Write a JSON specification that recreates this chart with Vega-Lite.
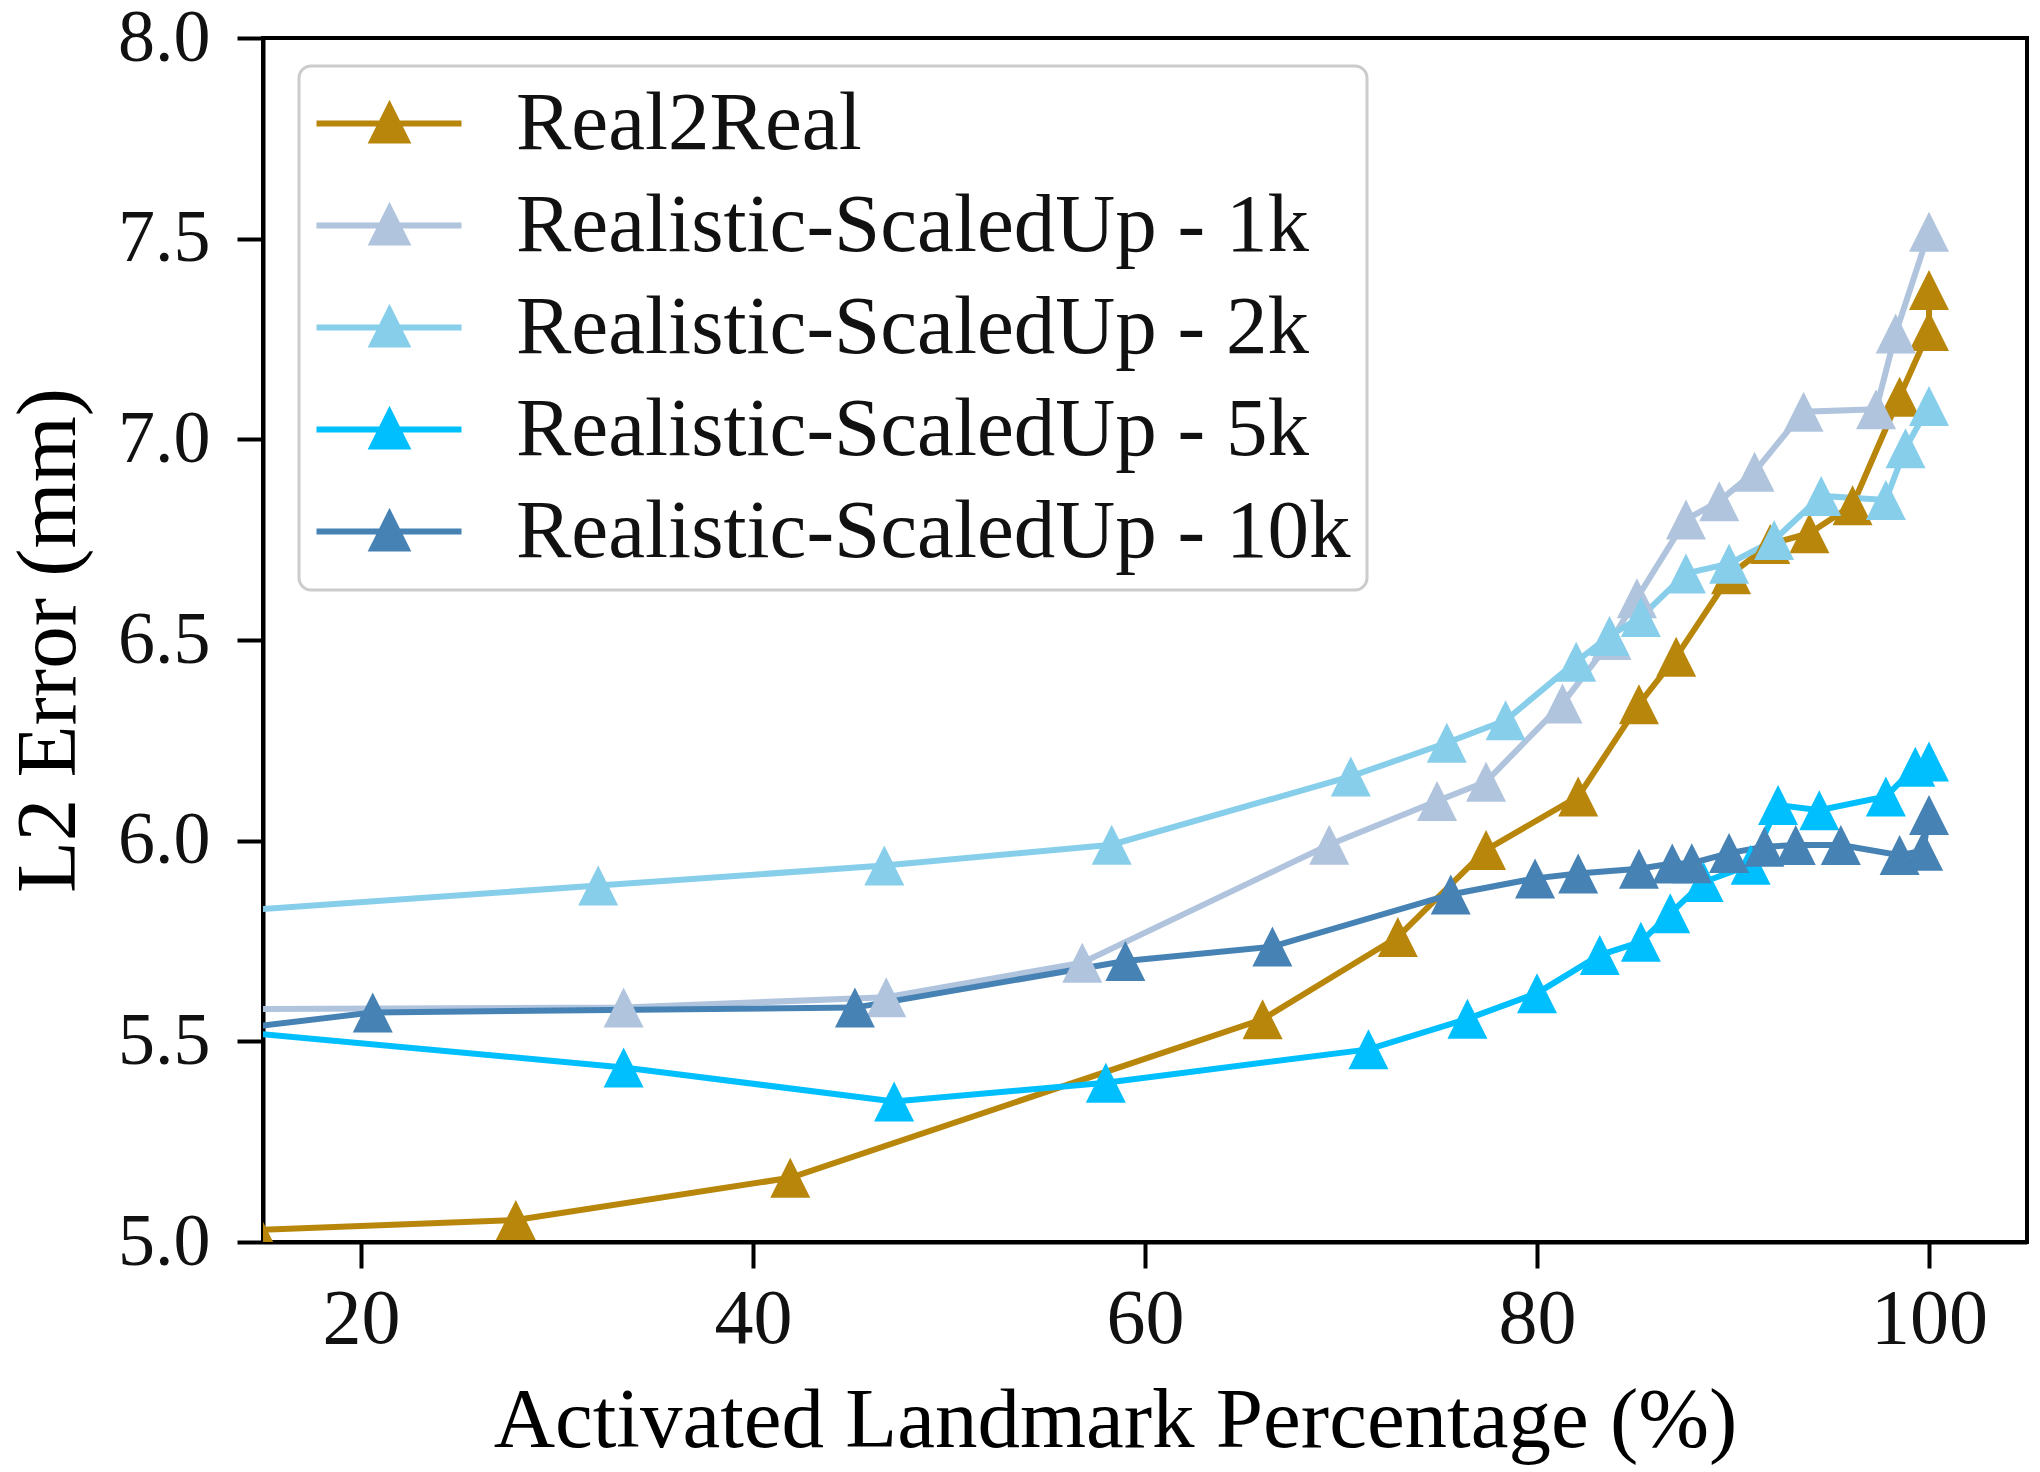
{
  "$schema": "https://vega.github.io/schema/vega-lite/v6.json",
  "width": 1764,
  "height": 1204,
  "autosize": {"type": "none"},
  "padding": {"left": 263, "top": 38, "right": 13, "bottom": 230},
  "background": "white",
  "config": {
    "view": {"stroke": "black", "strokeWidth": 4},
    "font": "Liberation Serif",
    "axis": {
      "grid": false,
      "domainColor": "black",
      "domainWidth": 4,
      "tickColor": "black",
      "tickWidth": 4,
      "tickSize": 26,
      "labelFont": "Liberation Serif",
      "labelFontSize": 78,
      "labelColor": "#111111",
      "titleFont": "Liberation Serif",
      "titleFontSize": 85,
      "titleFontWeight": "normal",
      "titleColor": "black"
    },
    "legend": {
      "orient": "none",
      "legendX": 36,
      "legendY": 28,
      "symbolType": "M-2.0,0L5.25,0M1.65,-0.85L0.8,0.85L2.5,0.85Z",
      "symbolSize": 1600,
      "symbolStrokeWidth": 6,
      "labelFont": "Liberation Serif",
      "labelFontSize": 83,
      "labelColor": "#111111",
      "labelOffset": 118,
      "labelLimit": 2000,
      "padding": 16,
      "rowPadding": 18,
      "fillColor": "rgba(255,255,255,0.85)",
      "strokeColor": "#cccccc",
      "strokeWidth": 3,
      "cornerRadius": 12
    }
  },
  "data": {
    "values": [
      {"s": "Real2Real", "i": 1, "x": 14.7, "y": 5.03},
      {"s": "Real2Real", "i": 2, "x": 27.9, "y": 5.055},
      {"s": "Real2Real", "i": 3, "x": 41.9, "y": 5.16},
      {"s": "Real2Real", "i": 4, "x": 66.0, "y": 5.555},
      {"s": "Real2Real", "i": 5, "x": 72.9, "y": 5.76},
      {"s": "Real2Real", "i": 6, "x": 77.4, "y": 5.977},
      {"s": "Real2Real", "i": 7, "x": 82.1, "y": 6.11},
      {"s": "Real2Real", "i": 8, "x": 85.2, "y": 6.34},
      {"s": "Real2Real", "i": 9, "x": 87.1, "y": 6.458},
      {"s": "Real2Real", "i": 10, "x": 89.9, "y": 6.664},
      {"s": "Real2Real", "i": 11, "x": 91.9, "y": 6.739},
      {"s": "Real2Real", "i": 12, "x": 93.9, "y": 6.766},
      {"s": "Real2Real", "i": 13, "x": 96.1, "y": 6.836},
      {"s": "Real2Real", "i": 14, "x": 98.5, "y": 7.106},
      {"s": "Real2Real", "i": 15, "x": 100.0, "y": 7.27},
      {"s": "Real2Real", "i": 16, "x": 100.0, "y": 7.372},

      {"s": "Realistic-ScaledUp - 1k", "i": 1, "x": 10.0, "y": 5.58},
      {"s": "Realistic-ScaledUp - 1k", "i": 2, "x": 33.4, "y": 5.584},
      {"s": "Realistic-ScaledUp - 1k", "i": 3, "x": 46.8, "y": 5.61},
      {"s": "Realistic-ScaledUp - 1k", "i": 4, "x": 56.8, "y": 5.696},
      {"s": "Realistic-ScaledUp - 1k", "i": 5, "x": 69.4, "y": 5.99},
      {"s": "Realistic-ScaledUp - 1k", "i": 6, "x": 74.9, "y": 6.099},
      {"s": "Realistic-ScaledUp - 1k", "i": 7, "x": 77.4, "y": 6.147},
      {"s": "Realistic-ScaledUp - 1k", "i": 8, "x": 81.3, "y": 6.342},
      {"s": "Realistic-ScaledUp - 1k", "i": 9, "x": 83.8, "y": 6.5},
      {"s": "Realistic-ScaledUp - 1k", "i": 10, "x": 85.1, "y": 6.604},
      {"s": "Realistic-ScaledUp - 1k", "i": 11, "x": 87.6, "y": 6.8},
      {"s": "Realistic-ScaledUp - 1k", "i": 12, "x": 89.3, "y": 6.846},
      {"s": "Realistic-ScaledUp - 1k", "i": 13, "x": 91.1, "y": 6.919},
      {"s": "Realistic-ScaledUp - 1k", "i": 14, "x": 93.6, "y": 7.069},
      {"s": "Realistic-ScaledUp - 1k", "i": 15, "x": 97.3, "y": 7.075},
      {"s": "Realistic-ScaledUp - 1k", "i": 16, "x": 98.3, "y": 7.264},
      {"s": "Realistic-ScaledUp - 1k", "i": 17, "x": 100.0, "y": 7.517},

      {"s": "Realistic-ScaledUp - 2k", "i": 1, "x": 10.0, "y": 5.813},
      {"s": "Realistic-ScaledUp - 2k", "i": 2, "x": 32.1, "y": 5.888},
      {"s": "Realistic-ScaledUp - 2k", "i": 3, "x": 46.7, "y": 5.938},
      {"s": "Realistic-ScaledUp - 2k", "i": 4, "x": 58.3, "y": 5.99},
      {"s": "Realistic-ScaledUp - 2k", "i": 5, "x": 70.5, "y": 6.16},
      {"s": "Realistic-ScaledUp - 2k", "i": 6, "x": 75.4, "y": 6.244},
      {"s": "Realistic-ScaledUp - 2k", "i": 7, "x": 78.4, "y": 6.3},
      {"s": "Realistic-ScaledUp - 2k", "i": 8, "x": 82.0, "y": 6.446},
      {"s": "Realistic-ScaledUp - 2k", "i": 9, "x": 83.7, "y": 6.51},
      {"s": "Realistic-ScaledUp - 2k", "i": 10, "x": 85.3, "y": 6.557},
      {"s": "Realistic-ScaledUp - 2k", "i": 11, "x": 87.6, "y": 6.666},
      {"s": "Realistic-ScaledUp - 2k", "i": 12, "x": 89.8, "y": 6.69},
      {"s": "Realistic-ScaledUp - 2k", "i": 13, "x": 92.1, "y": 6.749},
      {"s": "Realistic-ScaledUp - 2k", "i": 14, "x": 94.5, "y": 6.859},
      {"s": "Realistic-ScaledUp - 2k", "i": 15, "x": 97.8, "y": 6.849},
      {"s": "Realistic-ScaledUp - 2k", "i": 16, "x": 98.8, "y": 6.978},
      {"s": "Realistic-ScaledUp - 2k", "i": 17, "x": 100.0, "y": 7.083},

      {"s": "Realistic-ScaledUp - 5k", "i": 1, "x": 10.0, "y": 5.54},
      {"s": "Realistic-ScaledUp - 5k", "i": 2, "x": 33.4, "y": 5.435},
      {"s": "Realistic-ScaledUp - 5k", "i": 3, "x": 47.2, "y": 5.35},
      {"s": "Realistic-ScaledUp - 5k", "i": 4, "x": 58.0, "y": 5.397},
      {"s": "Realistic-ScaledUp - 5k", "i": 5, "x": 71.4, "y": 5.48},
      {"s": "Realistic-ScaledUp - 5k", "i": 6, "x": 76.45, "y": 5.556},
      {"s": "Realistic-ScaledUp - 5k", "i": 7, "x": 80.0, "y": 5.62},
      {"s": "Realistic-ScaledUp - 5k", "i": 8, "x": 83.2, "y": 5.715},
      {"s": "Realistic-ScaledUp - 5k", "i": 9, "x": 85.3, "y": 5.748},
      {"s": "Realistic-ScaledUp - 5k", "i": 10, "x": 86.8, "y": 5.819},
      {"s": "Realistic-ScaledUp - 5k", "i": 11, "x": 88.5, "y": 5.897},
      {"s": "Realistic-ScaledUp - 5k", "i": 12, "x": 90.9, "y": 5.94},
      {"s": "Realistic-ScaledUp - 5k", "i": 13, "x": 92.3, "y": 6.089},
      {"s": "Realistic-ScaledUp - 5k", "i": 14, "x": 94.4, "y": 6.076},
      {"s": "Realistic-ScaledUp - 5k", "i": 15, "x": 97.8, "y": 6.11},
      {"s": "Realistic-ScaledUp - 5k", "i": 16, "x": 99.3, "y": 6.184},
      {"s": "Realistic-ScaledUp - 5k", "i": 17, "x": 100.0, "y": 6.197},

      {"s": "Realistic-ScaledUp - 10k", "i": 1, "x": 10.0, "y": 5.51},
      {"s": "Realistic-ScaledUp - 10k", "i": 2, "x": 20.6, "y": 5.572},
      {"s": "Realistic-ScaledUp - 10k", "i": 3, "x": 45.2, "y": 5.584},
      {"s": "Realistic-ScaledUp - 10k", "i": 4, "x": 59.0, "y": 5.7},
      {"s": "Realistic-ScaledUp - 10k", "i": 5, "x": 66.5, "y": 5.736},
      {"s": "Realistic-ScaledUp - 10k", "i": 6, "x": 75.6, "y": 5.866},
      {"s": "Realistic-ScaledUp - 10k", "i": 7, "x": 79.9, "y": 5.906},
      {"s": "Realistic-ScaledUp - 10k", "i": 8, "x": 82.1, "y": 5.918},
      {"s": "Realistic-ScaledUp - 10k", "i": 9, "x": 85.2, "y": 5.93},
      {"s": "Realistic-ScaledUp - 10k", "i": 10, "x": 86.9, "y": 5.943},
      {"s": "Realistic-ScaledUp - 10k", "i": 11, "x": 87.9, "y": 5.944},
      {"s": "Realistic-ScaledUp - 10k", "i": 12, "x": 89.8, "y": 5.969},
      {"s": "Realistic-ScaledUp - 10k", "i": 13, "x": 91.6, "y": 5.985},
      {"s": "Realistic-ScaledUp - 10k", "i": 14, "x": 93.2, "y": 5.989},
      {"s": "Realistic-ScaledUp - 10k", "i": 15, "x": 95.5, "y": 5.989},
      {"s": "Realistic-ScaledUp - 10k", "i": 16, "x": 98.5, "y": 5.964},
      {"s": "Realistic-ScaledUp - 10k", "i": 17, "x": 99.7, "y": 5.975},
      {"s": "Realistic-ScaledUp - 10k", "i": 18, "x": 100.0, "y": 6.064}
    ]
  },
  "encoding": {
    "x": {
      "field": "x",
      "type": "quantitative",
      "scale": {"domain": [15, 105], "nice": false, "zero": false},
      "axis": {
        "values": [20, 40, 60, 80, 100],
        "format": "d",
        "title": "Activated Landmark Percentage (%)",
        "labelPadding": 12,
        "titlePadding": 21,
        "titleX": 852
      }
    },
    "y": {
      "field": "y",
      "type": "quantitative",
      "scale": {"domain": [5, 8], "nice": false, "zero": false},
      "axis": {
        "values": [5, 5.5, 6, 6.5, 7, 7.5, 8],
        "format": ".1f",
        "title": "L2 Error (mm)",
        "labelFontSize": 74,
        "labelPadding": 27,
        "titlePadding": 25
      }
    }
  },
  "layer": [
    {
      "mark": {"type": "line", "strokeWidth": 6, "clip": true},
      "encoding": {
        "stroke": {
          "field": "s",
          "type": "nominal",
          "title": null,
          "scale": {
            "domain": ["Real2Real", "Realistic-ScaledUp - 1k", "Realistic-ScaledUp - 2k", "Realistic-ScaledUp - 5k", "Realistic-ScaledUp - 10k"],
            "range": ["#B8860B", "#B0C4DE", "#87CEEB", "#00BFFF", "#4682B4"]
          }
        },
        "order": {"field": "i", "type": "quantitative"}
      }
    },
    {
      "mark": {"type": "point", "filled": true, "opacity": 1, "shape": "M0,-1L-1,1L1,1Z", "size": 1600, "clip": true},
      "encoding": {
        "fill": {
          "field": "s",
          "type": "nominal",
          "title": null,
          "scale": {
            "domain": ["Real2Real", "Realistic-ScaledUp - 1k", "Realistic-ScaledUp - 2k", "Realistic-ScaledUp - 5k", "Realistic-ScaledUp - 10k"],
            "range": ["#B8860B", "#B0C4DE", "#87CEEB", "#00BFFF", "#4682B4"]
          }
        }
      }
    }
  ]
}
